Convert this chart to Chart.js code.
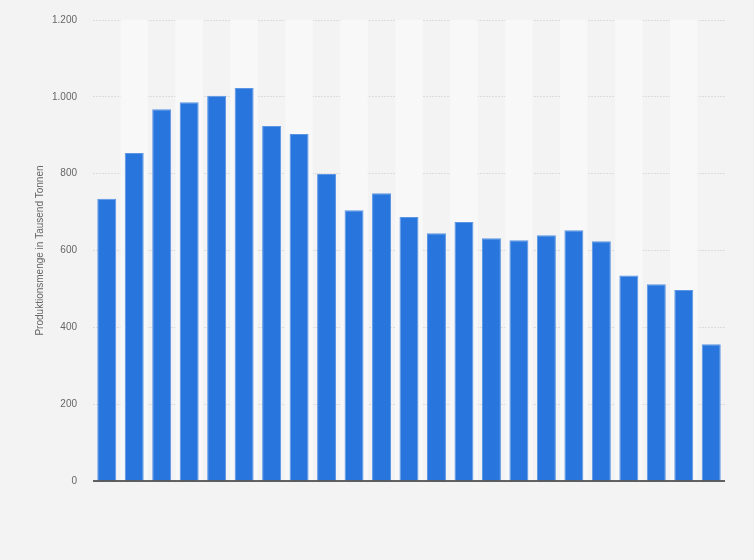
<!DOCTYPE html>
<html>
<head>
<meta charset="utf-8">
<script src="https://cdn.jsdelivr.net/npm/chart.js@4"></script>
<style>
  html, body { margin: 0; padding: 0; background: #f3f3f3; }
  #wrap { width: 754px; height: 560px; position: relative; }
</style>
</head>
<body>
<div id="wrap"><canvas id="c" width="754" height="560"></canvas></div>
<script>
const categories = ['1','2','3','4','5','6','7','8','9','10','11','12','13','14','15','16','17','18','19','20','21','22','23'];
const values = [735, 854, 968, 986, 1003, 1023, 924, 903, 799, 705, 749, 687, 645, 674, 632, 627, 640, 653, 624, 535, 512, 497, 356];
const yTicks = [0, 200, 400, 600, 800, 1000, 1200];
const yTitle = 'Produktionsmenge in Tausend Tonnen';

const stripes = {
  id: 'stripes',
  beforeDatasetsDraw(chart) {
    const { ctx, chartArea, scales } = chart;
    const x = scales.x;
    const n = categories.length;
    const w = (chartArea.right - chartArea.left) / n;
    ctx.save();
    ctx.fillStyle = '#f8f8f8';
    for (let i = 0; i < n; i++) {
      if (i % 2 === 1) {
        const cx = x.getPixelForValue(i);
        ctx.fillRect(cx - w / 2, chartArea.top, w, chartArea.bottom - chartArea.top);
      }
    }
    ctx.restore();
  },
  afterDatasetsDraw(chart) {
    const { ctx, chartArea, scales } = chart;
    const y0 = scales.y.getPixelForValue(0);
    ctx.save();
    ctx.strokeStyle = '#333333';
    ctx.lineWidth = 1.5;
    ctx.beginPath();
    ctx.moveTo(chartArea.left, y0);
    ctx.lineTo(chartArea.right, y0);
    ctx.stroke();
    ctx.restore();
  }
};

new Chart(document.getElementById('c'), {
  type: 'bar',
  data: {
    labels: categories,
    datasets: [{
      data: values,
      backgroundColor: '#2876dd',
      borderColor: '#5b95e4',
      borderWidth: 1,
      barPercentage: 0.69,
      categoryPercentage: 1.0
    }]
  },
  plugins: [stripes],
  options: {
    responsive: false,
    devicePixelRatio: 1,
    animation: false,
    layout: { padding: { left: 34, top: 20, right: 29, bottom: 79 } },
    plugins: { legend: { display: false }, tooltip: { enabled: false } },
    scales: {
      x: {
        ticks: { display: false },
        grid: { display: false, drawTicks: false },
        border: { display: false },
        afterFit(axis) { axis.height = 0; axis.paddingLeft = 0; axis.paddingRight = 0; }
      },
      y: {
        min: 0,
        max: 1200,
        afterBuildTicks(axis) { axis.ticks = yTicks.map(v => ({ value: v })); },
        ticks: {
          color: '#666666',
          font: { family: 'Arial, "Liberation Sans", sans-serif', size: 10 },
          padding: 16,
          callback: v => v.toLocaleString('de-DE')
        },
        grid: { color: '#dcdcdc', drawTicks: false, lineWidth: 1 },
        border: { display: false, dash: [2, 1] },
        title: {
          display: true,
          text: yTitle,
          color: '#666666',
          font: { family: 'Arial, "Liberation Sans", sans-serif', size: 10 },
          padding: 0
        },
        afterFit(axis) { axis.width = 59; axis.paddingTop = 0; axis.paddingBottom = 0; }
      }
    }
  }
});
</script>
</body>
</html>
